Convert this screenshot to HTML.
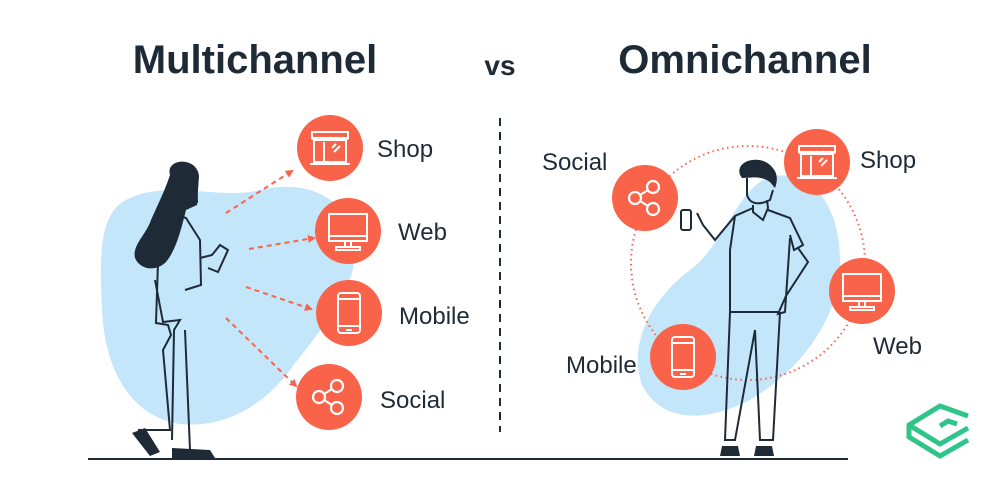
<!DOCTYPE html>
<html><head><meta charset="utf-8"><style>
html,body{margin:0;padding:0;background:#fff;}
svg{display:block;}
text{font-family:"Liberation Sans",sans-serif;fill:#1f2a37;}
</style></head><body>
<svg width="1000" height="484" viewBox="0 0 1000 484" xmlns="http://www.w3.org/2000/svg">
<defs>
<marker id="ah" markerWidth="8" markerHeight="8" refX="6" refY="4" orient="auto" markerUnits="userSpaceOnUse"><path d="M0,0 L8,4 L0,8 z" fill="#f9634a"/></marker>
<g id="shop" fill="none" stroke="#fff" stroke-width="2">
<rect x="-18" y="-16" width="36" height="6"/><path d="M-18,-10 q3,4 6,0 q3,4 6,0 q3,4 6,0 q3,4 6,0 q3,4 6,0 q3,4 6,0"/>
<rect x="-16" y="-8" width="32" height="22"/><line x1="-20" y1="16" x2="20" y2="16"/><line x1="-6" y1="-6" x2="-6" y2="14"/>
<line x1="2" y1="0" x2="6" y2="-4"/><line x1="4" y1="4" x2="10" y2="-2"/></g>
<g id="web" fill="none" stroke="#fff" stroke-width="2"><rect x="-19" y="-17" width="38" height="27"/><line x1="-19" y1="5" x2="19" y2="5"/><line x1="-3" y1="10" x2="-3" y2="16"/><line x1="3" y1="10" x2="3" y2="16"/><rect x="-12" y="16" width="24" height="3"/></g>
<g id="mob" fill="none" stroke="#fff" stroke-width="2"><rect x="-11" y="-20" width="22" height="40" rx="3"/><line x1="-11" y1="-14" x2="11" y2="-14"/><line x1="-11" y1="13" x2="11" y2="13"/><line x1="-3" y1="17" x2="3" y2="17"/></g>
<g id="soc" fill="none" stroke="#fff" stroke-width="2.2"><circle cx="-10" cy="0" r="6"/><circle cx="8" cy="-11" r="6"/><circle cx="8" cy="11" r="6"/><line x1="-5" y1="-3" x2="3" y2="-8"/><line x1="-5" y1="3" x2="3" y2="8"/></g>
</defs>

<text x="255" y="73" font-size="40" font-weight="bold" text-anchor="middle">Multichannel</text>
<text x="500" y="75" font-size="28" font-weight="bold" text-anchor="middle">vs</text>
<text x="745" y="73" font-size="40" font-weight="bold" text-anchor="middle">Omnichannel</text>

<line x1="500" y1="118" x2="500" y2="432" stroke="#1f2a37" stroke-width="2" stroke-dasharray="8,6"/>
<line x1="88" y1="459" x2="848" y2="459" stroke="#1f2a37" stroke-width="2"/>

<!-- left blob -->
<path d="M130,198 C170,180 220,200 260,190 C310,178 350,200 355,245 C358,290 320,330 290,370 C260,410 220,428 180,424 C130,416 105,370 102,310 C99,250 100,210 130,198 Z" fill="#c3e6fb"/>
<!-- woman -->
<path d="M170,175 C165,158 197,156 199,176 L197,205 L186,210 C181,230 176,250 166,262 C156,272 140,270 135,258 C132,245 146,235 151,220 C160,200 165,190 170,175 Z" fill="#1f2a37"/>
<g fill="none" stroke="#1f2a37" stroke-width="2">
<path d="M191,178 L196,175 L197,202 L181,206"/>
<path d="M176,215 L186,218 L200,240 L201,285 L185,290"/>
<path d="M155,280 L163,322 L180,320 L174,330 L172,440"/>
<path d="M170,230 L158,262 L156,323 L168,325 L171,335 L163,350 L170,430 L138,430"/>
<path d="M200,258 L212,255 L220,245 L228,250 L218,272 L208,268"/>
<path d="M185,330 L190,450 L185,455"/>
</g>
<path d="M132,433 L145,428 L160,452 L150,456 Z M172,448 L210,450 L215,458 L172,458 Z" fill="#1f2a37"/>

<!-- arrows left -->
<g stroke="#f9634a" stroke-width="2" stroke-dasharray="5,4" fill="none" marker-end="url(#ah)">
<line x1="226" y1="213" x2="292" y2="171"/>
<line x1="249" y1="249" x2="314" y2="238"/>
<line x1="246" y1="287" x2="311" y2="309"/>
<line x1="226" y1="318" x2="296" y2="386"/>
</g>
<g fill="#f9634a">
<circle cx="330" cy="148" r="33"/><circle cx="348" cy="231" r="33"/><circle cx="349" cy="313" r="33"/><circle cx="329" cy="397" r="33"/>
</g>
<use href="#shop" x="330" y="148"/><use href="#web" x="348" y="231"/><use href="#mob" x="349" y="313"/><use href="#soc" x="329" y="397"/>
<g font-size="24">
<text x="377" y="157">Shop</text><text x="398" y="240">Web</text><text x="399" y="324">Mobile</text><text x="380" y="408">Social</text>
</g>

<!-- right blob -->
<path d="M775,176 C815,170 840,210 840,260 C840,320 800,370 750,400 C700,425 660,420 642,385 C628,345 650,300 690,270 C725,245 740,180 775,176 Z" fill="#c3e6fb"/>
<circle cx="748" cy="263" r="117" fill="none" stroke="#f9634a" stroke-width="2" stroke-dasharray="1.5,3.5"/>
<!-- man -->
<path d="M740,175 C735,160 760,155 770,165 C778,172 778,180 775,188 L770,182 C760,175 750,178 742,178 Z" fill="#1f2a37"/>
<g fill="none" stroke="#1f2a37" stroke-width="2">
<path d="M747,178 L747,195 C750,205 760,205 770,200 L773,190"/>
<path d="M753,205 L753,212 L763,220 L768,208 L767,200"/>
<path d="M753,208 L735,216 L715,240 L703,225 L697,213"/>
<path d="M768,210 L790,218 L803,245 L794,250 L790,235"/>
<path d="M735,216 L730,250 L730,312 L778,312"/>
<path d="M790,238 L785,312 L778,314 L786,296 L808,262 L798,248"/>
<path d="M730,312 L725,440 L735,440 L755,330 L760,440 L773,440 L780,312"/>
<rect x="681" y="210" width="10" height="20" rx="2"/>
</g>
<path d="M722,446 L738,446 L740,456 L720,456 Z M756,446 L772,446 L774,456 L754,456 Z" fill="#1f2a37"/>

<g fill="#f9634a">
<circle cx="645" cy="198" r="33"/><circle cx="817" cy="162" r="33"/><circle cx="862" cy="291" r="33"/><circle cx="683" cy="357" r="33"/>
</g>
<use href="#soc" x="645" y="198"/><use href="#shop" x="817" y="162"/><use href="#web" x="862" y="291"/><use href="#mob" x="683" y="357"/>
<g font-size="24">
<text x="542" y="170">Social</text><text x="860" y="168">Shop</text><text x="873" y="354">Web</text><text x="566" y="373">Mobile</text>
</g>

<!-- logo -->
<g fill="none" stroke="#2fc48a" stroke-width="5" stroke-linejoin="miter">
<path d="M968,416 L940,406 L909,425 L909,437 L940,456 L968,440"/>
<path d="M909,425 L940,444 L968,428"/>
<path d="M940,426 L948,421 L957,424"/>
</g>
</svg>
</body></html>
